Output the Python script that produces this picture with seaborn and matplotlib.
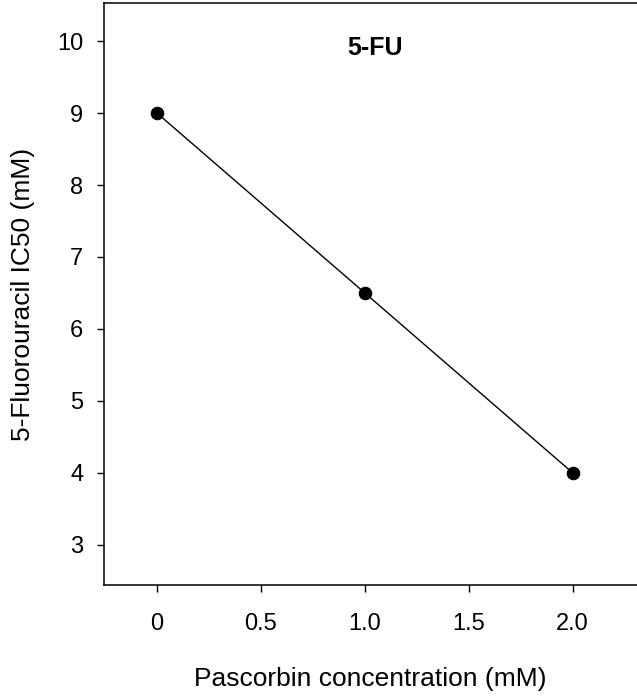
import matplotlib
matplotlib.use("Agg")
import matplotlib.pyplot as plt
import seaborn as sns

# data
pascorbin_mM = [0.0, 1.0, 2.0]
ic50_mM = [9.0, 6.5, 4.0]
x_ticks = [0, 0.5, 1.0, 1.5, 2.0]
x_tick_labels = ["0", "0.5", "1.0", "1.5", "2.0"]
y_ticks = [3, 4, 5, 6, 7, 8, 9, 10]

sns.set_style("ticks")
plt.rcParams["font.family"] = ["Liberation Sans", "DejaVu Sans"]
plt.rcParams["text.color"] = "black"
plt.rcParams["axes.labelcolor"] = "black"

fig = plt.figure(figsize=(6.37, 6.98), dpi=100)
ax = fig.add_axes([104 / 637, 113 / 698, 1 - 104 / 637, 582 / 698])

sns.lineplot(x=pascorbin_mM, y=ic50_mM, ax=ax, color="black", linewidth=1.0,
             marker="o", markersize=9, markeredgecolor="black")

ax.set_xlim(-0.255, 2.31)
ax.set_ylim(2.44, 10.53)
ax.set_xticks(x_ticks)
ax.set_xticklabels(x_tick_labels)
ax.set_yticks(y_ticks)

for side in ["left", "top", "bottom"]:
    ax.spines[side].set_visible(True)
    ax.spines[side].set_color("black")
    ax.spines[side].set_linewidth(1.1)
ax.spines["right"].set_visible(False)

ax.tick_params(axis="x", direction="out", length=5, width=1, pad=15, labelsize=17,
               colors="black", labelcolor="black")
ax.tick_params(axis="y", direction="out", length=5, width=1, pad=10, labelsize=17,
               colors="black", labelcolor="black")

ax.set_xlabel("Pascorbin concentration (mM)", fontsize=19, labelpad=23, color="black")
ax.set_ylabel("5-Fluorouracil IC50 (mM)", fontsize=19, labelpad=16, color="black")
ax.text(0.508, 0.923, "5-FU", transform=ax.transAxes, ha="center", va="center",
        fontsize=18, fontweight="bold", color="black")

fig.savefig("out.png", dpi=100)
